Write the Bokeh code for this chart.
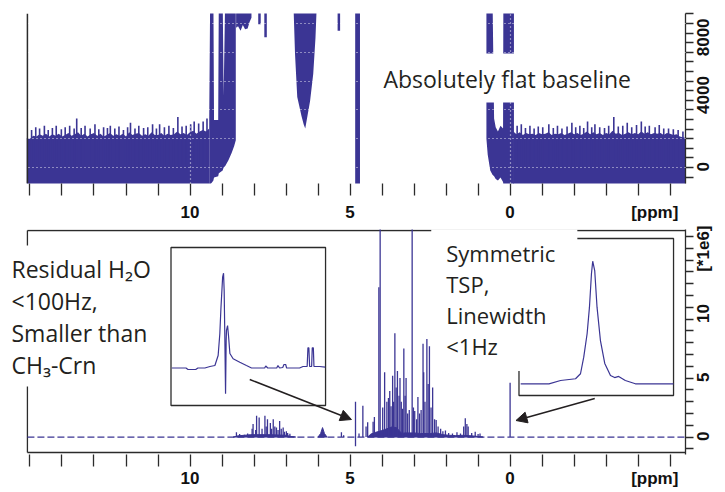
import math
from bokeh.plotting import figure
from bokeh.layouts import column
from bokeh.models import Range1d, FixedTicker, Label, Arrow, NormalHead, Span
from bokeh.embed import file_html
from bokeh.resources import INLINE

BLUE = "#3b3594"
INK = "#231f20"
AXIS = "#2b2b2b"

# ---------------- data ----------------
# x axis (chemical shift, ppm); "[ppm]" unit label sits at -4.52
x_labeled_ticks = [10, 5, 0, -4.52]
x_label_text = {-4.52: "[ppm]"}
x_all_ticks = [15, 14, 13, 12, 11, 10, 9, 8, 7, 6, 5, 4, 3, 2, 1, 0, -1, -2, -3, -4, -5]

# top panel: intensity axis
top_y_labeled = [0, 4000, 8000]
top_y_label_text = ["0", "4000", "8000"]
top_y_minor = [-667, 0, 667, 1333, 2000, 2667, 3333, 4000, 4667, 5333, 6000, 6667,
               7333, 8000, 8667, 9333, 10000, 10667]
top_y_grid = [0, 2000, 4000, 6000, 8000, 10000]

# bottom panel: intensity axis (x 1e6); unit label in place of a top tick label
bot_y_labeled = [0, 5, 10, 16]
bot_y_label_text = ["0", "5", "10", "[*1e6]"]
bot_y_minor = [-1, 0, 1, 2, 3, 4, 5, 6, 7, 8, 9, 10, 11, 12, 13, 14, 15, 16, 17]

# top panel: noise band left of the signals (upper edge of the dense noise)
noise_left_ppm = [15.1, 15.0, 14.9, 14.8, 14.7, 14.6, 14.5, 14.4, 14.3, 14.2, 14.1, 14.0,
                  13.9, 13.8, 13.7, 13.6, 13.5, 13.4, 13.3, 13.2, 13.1, 13.0, 12.9, 12.8,
                  12.7, 12.6, 12.5, 12.4, 12.3, 12.2, 12.1, 12.0, 11.9, 11.8, 11.7, 11.6,
                  11.5, 11.4, 11.3, 11.2, 11.1, 11.0, 10.9, 10.8, 10.7, 10.6, 10.5, 10.4,
                  10.3, 10.2, 10.1, 10.0, 9.9, 9.8, 9.7, 9.6, 9.5, 9.4]
noise_left_top = [2050, 2000, 2200, 2150, 2300, 2200, 2350, 2150, 2300, 2200, 2350, 2150,
                  2250, 2400, 2200, 2300, 2450, 2200, 2350, 2150, 2300, 2400, 2200, 2350,
                  2150, 2250, 2400, 2200, 2300, 2200, 2350, 2150, 2450, 2250, 2350, 2400,
                  2200, 2300, 2200, 2450, 2250, 2250, 2400, 2200, 2350, 2250, 2300, 2500,
                  2300, 2400, 2250, 2450, 2550, 2350, 2500, 2600, 2500, 2700]
noise_left_spike_ppm = [14.95, 14.82, 14.70, 14.55, 14.43, 14.30, 14.18, 14.02, 13.90, 13.76,
                        13.62, 13.54, 13.40, 13.28, 13.12, 12.97, 12.85, 12.70, 12.58, 12.49,
                        12.35, 12.22, 12.08, 11.95, 11.86, 11.72, 11.60, 11.45, 11.32, 11.17,
                        11.05, 10.95, 10.80, 10.66, 10.52, 10.38, 10.25, 10.12, 9.98, 9.87,
                        9.73, 9.59, 9.47]
noise_left_spike = [2600, 2800, 2700, 2900, 2600, 2750, 2900, 2650, 2800, 2900,
                    2700, 3400, 2750, 2900, 2700, 3000, 2650, 2800, 2750, 2900,
                    2700, 2850, 2600, 2800, 3100, 2700, 2900, 2750, 2800, 3000,
                    2700, 3000, 2800, 2900, 2750, 3500, 2850, 2900, 3000, 3200,
                    3050, 3200, 3400]
# top panel: noise band right of TSP
noise_right_ppm = [-0.1, -0.2, -0.3, -0.4, -0.5, -0.6, -0.7, -0.8, -0.9, -1.0, -1.1, -1.2,
                   -1.3, -1.4, -1.5, -1.6, -1.7, -1.8, -1.9, -2.0, -2.1, -2.2, -2.3, -2.4,
                   -2.5, -2.6, -2.7, -2.8, -2.9, -3.0, -3.1, -3.2, -3.3, -3.4, -3.5, -3.6,
                   -3.7, -3.8, -3.9, -4.0, -4.1, -4.2, -4.3, -4.4, -4.5, -4.6, -4.7, -4.8,
                   -4.9, -5.0, -5.1, -5.2, -5.3, -5.4, -5.5]
noise_right_top = [2500, 2300, 2450, 2250, 2400, 2300, 2350, 2250, 2400, 2300,
                   2350, 2450, 2250, 2350, 2300, 2400, 2250, 2350, 2450, 2300,
                   2400, 2250, 2350, 2500, 2300, 2450, 2300, 2400, 2250, 2400,
                   2300, 2550, 2350, 2400, 2250, 2350, 2450, 2300, 2400, 2300,
                   2500, 2350, 2450, 2300, 2400, 2350, 2400, 2250, 2400, 2350,
                   2250, 2300, 2150, 2100, 2050]
noise_right_spike_ppm = [-0.22, -0.35, -0.48, -0.62, -0.75, -0.88, -1.02, -1.21, -1.35, -1.48,
                         -1.62, -1.78, -1.93, -2.05, -2.18, -2.30, -2.42, -2.55, -2.65, -2.80,
                         -2.95, -3.08, -3.24, -3.38, -3.52, -3.66, -3.80, -3.95, -4.10, -4.22,
                         -4.35, -4.53, -4.66, -4.80, -4.95, -5.10, -5.25, -5.40]
noise_right_spike = [2900, 3000, 2750, 2900, 2700, 2850, 2800, 3000, 2750, 2900,
                     2700, 2850, 3100, 2800, 2900, 2750, 3200, 2800, 3000, 2800,
                     2750, 2900, 3500, 2850, 2900, 3100, 2800, 2950, 3200, 2850,
                     2900, 2800, 2950, 2700, 2700, 2650, 2600, 2500]
noise_floor = -1200

# top panel: signal regions that come into view (lower / upper edge)
offscale = 12000
rise_ppm = [9.40, 9.37, 9.27, 9.25, 9.12, 9.10, 8.98, 8.95, 8.90, 8.80, 8.70, 8.62, 8.57]
rise_top = [3400, 12000, 12000, 3300, 3300, 12000, 12000, 5000, 12000, 12000, 12000, 12000, 12000]
rise_low = [-1200, -1200, -900, -700, -600, -400, -200, 0, 100, 500, 1000, 1500, 1900]

arom_ppm = [8.56, 8.50, 8.42, 8.35, 8.28, 8.20, 8.14, 8.08]
arom_low = [9700, 9800, 9500, 9900, 9600, 9650, 10100, 10400]
dip_ppm = [7.83, 7.64, 5.35]
dip_low = [9950, 9050, 9500]

gap_ppm = [6.76, 6.72, 6.65, 6.58, 6.52, 6.45, 6.40, 6.33, 6.25, 6.15, 6.08, 6.05]
gap_low = [10700, 7900, 4900, 4200, 3600, 3000, 2700, 3600, 4600, 6500, 9000, 10700]

water_ppm = [4.84, 4.69]

tsp_ppm = [0.74, 0.70, 0.62, 0.55, 0.50, 0.45, 0.38, 0.30, 0.22, 0.21, -0.12]
tsp_top = [12000, 12000, 12000, 12000, 3400, 2800, 2500, 2900, 2700, 12000, 12000]
tsp_low = [2000, 900, -200, -500, -600, -800, -900, -700, -1000, -1200, -1200]

# bottom panel: resolved peaks (ppm, intensity x1e6)
peak_ppm = [8.55, 8.45, 8.30, 8.20, 8.06, 8.03, 7.95, 7.92, 7.84, 7.75, 7.66, 7.62, 7.58,
            7.49, 7.45, 7.40, 7.35, 7.30, 7.25, 7.20, 7.15, 7.09, 7.05, 6.99, 6.95, 6.88,
            5.27, 5.20, 4.72, 4.60, 4.50, 4.45, 4.28, 4.24, 4.10, 4.06, 3.98, 3.92, 3.85,
            3.80, 3.76, 3.72, 3.67, 3.64, 3.60, 3.56, 3.52, 3.47, 3.44, 3.40, 3.36, 3.32,
            3.28, 3.25, 3.20, 3.15, 3.06, 3.02, 2.98, 2.92, 2.88, 2.83, 2.78, 2.72, 2.70,
            2.66, 2.60, 2.56, 2.52, 2.47, 2.42, 2.36, 2.31, 2.25, 2.17, 2.10, 2.02, 1.92,
            1.80, 1.66, 1.55, 1.45, 1.40, 1.35, 1.31, 1.20, 1.09, 1.00, 0.94, 0.00]
peak_val = [0.40, 0.25, 0.20, 0.30, 0.70, 1.10, 0.60, 1.80, 1.65, 0.70, 1.80, 0.90, 1.50,
            1.20, 0.70, 1.50, 0.90, 0.80, 0.60, 1.35, 0.70, 0.80, 0.45, 0.50, 0.35, 0.28,
            0.40, 0.15, 0.30, 2.65, 0.90, 1.25, 1.30, 1.70, 12.7, 30.0, 2.50, 5.50, 3.00,
            3.30, 3.90, 2.60, 5.20, 3.00, 8.80, 4.20, 5.60, 3.50, 5.00, 3.00, 2.40, 7.50,
            3.50, 5.00, 2.00, 2.30, 30.0, 2.50, 2.20, 1.50, 3.40, 2.00, 2.30, 7.90, 5.50,
            3.00, 8.30, 4.50, 7.70, 2.50, 4.20, 1.50, 1.45, 0.90, 0.70, 0.50, 0.55, 0.35,
            0.30, 0.40, 0.30, 0.90, 1.60, 1.10, 0.90, 0.35, 0.45, 0.25, 0.30, 4.60]
water_shift = 4.83
water_up, water_down = 3.0, -0.77

# bottom panel: broad underlying signal envelopes
hump_ppm = [[8.65, 8.50, 8.10, 7.50, 7.00, 6.85, 6.70],
            [6.00, 5.92, 5.86, 5.80, 5.72],
            [4.45, 4.35, 4.20, 4.00, 3.85, 3.70, 3.55, 3.45, 3.38, 3.30, 3.00, 2.80, 2.50,
             2.30, 2.10, 1.90, 1.70, 1.50, 1.20, 1.00, 0.85]]
hump_val = [[0.0, 0.10, 0.20, 0.20, 0.15, 0.05, 0.0],
            [0.0, 0.30, 0.80, 0.30, 0.0],
            [0.0, 0.25, 0.40, 0.55, 0.70, 0.85, 0.80, 0.50, 0.30, 0.35, 0.35, 0.30, 0.30,
             0.35, 0.20, 0.15, 0.12, 0.15, 0.10, 0.05, 0.0]]

# insets (relative position 0..100, relative intensity 0..100)
h2o_x = [0.5, 9.7, 11.0, 16.0, 17.4, 21.9, 25.2, 28.4, 30.5, 31.6, 32.3, 33.4, 34.0, 34.4,
         34.8, 35.3, 35.7, 35.9, 36.6, 37.2, 38.1, 40.2, 44.5, 48.8, 52.1, 60.6, 61.3, 62.6,
         68.4, 69.2, 70.3, 72.3, 73.1, 74.2, 74.8, 83.2, 85.4, 88.1, 88.6, 89.2, 89.7, 91.0,
         91.4, 92.1, 92.5, 96.1, 99.8]
h2o_y = [0, 0, -1.6, -1.6, 0, 0, 1.6, 2.6, 13.2, 36.4, 62.8, 95.8, 100, 81.8, 36.4, -27.2,
         29, 39.6, 44.8, 34.3, 15.3, 9.7, 6.1, 2.6, 0, 0, 2.1, 0, 0, 2.6, 0, 0.5, 3.7, 3.7,
         0, 0, 1.6, 1.6, 21.3, 21.3, 1.6, 1.6, 21.3, 21.3, 1.6, 1.6, 1.0]
tsp_x = [1.1, 19.4, 26.9, 36.6, 39.8, 41.9, 44.1, 45.6, 46.9, 47.7, 49.0, 50.5, 52.7, 55.5,
         59.2, 61.9, 64.5, 68.8, 75.3, 100]
tsp_y = [0, 0, 2.7, 4.1, 8.2, 21.7, 41, 62.5, 90, 100, 92.4, 62.5, 35.3, 16.6, 6.8, 5.1,
         6.0, 2.7, 0, 0]

# ---------------- layout (page pixels) ----------------
W = 725
FRAME_L, FRAME_R = 27, 687     # drawn frame edges; the bokeh frames start at x=0
TOP_H, BOT_H = 225, 267
T_FT, T_FB = 13, 183
B_FT, B_FB = 230, 452          # drawn frame of the lower panel
B_CT, B_CB = 229, 454          # bokeh frame (clip area) of the lower panel
X0, X1 = 15.08, -5.48
TY0, TY1 = -1110, 10690
BY0, BY1 = -1.31, 17.5
LABEL_SHIFT = 4                # px: recentre rotated tick labels on their ticks


def px_x(px):
    return X0 + (px - FRAME_L) * (X1 - X0) / (FRAME_R - FRAME_L)


def px_ty(py):
    return TY0 + (T_FB - py) * (TY1 - TY0) / (T_FB - T_FT)


def px_by(py):
    return BY0 + (B_FB - py) * (BY1 - BY0) / (B_FB - B_FT)


def style_axes(p, ylab, ytext, yminor, per_px, x_standoff):
    ax = p.xaxis[0]
    ax.ticker = FixedTicker(ticks=x_labeled_ticks, minor_ticks=x_all_ticks)
    ax.major_label_overrides = x_label_text
    ax.major_tick_in = 0
    ax.major_tick_out = 0
    ax.minor_tick_in = 0
    ax.minor_tick_out = 12
    ax.major_label_standoff = x_standoff
    ay = p.yaxis[0]
    shifted = [round(v - LABEL_SHIFT * per_px, 3) for v in ylab]
    ay.ticker = FixedTicker(ticks=shifted, minor_ticks=yminor)
    ay.major_label_overrides = dict(zip(shifted, ytext))
    ay.major_tick_in = 0
    ay.major_tick_out = 0
    ay.minor_tick_in = 0
    ay.minor_tick_out = 8
    ay.major_label_orientation = math.pi / 2
    ay.major_label_standoff = 10
    for a in (ax, ay):
        a.axis_line_color = AXIS
        a.axis_line_width = 1.3
        a.major_tick_line_color = AXIS
        a.minor_tick_line_color = AXIS
        a.major_tick_line_width = 1.3
        a.minor_tick_line_width = 1.3
        a.major_label_text_font = "Liberation Sans"
        a.major_label_text_font_style = "bold"
        a.major_label_text_font_size = "17px"
        a.major_label_text_color = "#111111"
    ax.axis_line_color = None


def text_label(x, y, txt, size, line_h, pad):
    return Label(x=x, y=y, text=txt, text_font="Open Sans", text_font_size=size,
                 text_color=INK, text_align="left", text_baseline="top",
                 text_line_height=line_h, background_fill_color="white",
                 background_fill_alpha=1.0, padding=pad)


# ---------------- top panel ----------------
top = figure(width=W, height=TOP_H, x_range=Range1d(px_x(0), X1), y_range=Range1d(TY0, TY1),
             output_backend="svg", toolbar_location=None, y_axis_location="right",
             min_border_left=0, min_border_right=W - FRAME_R,
             min_border_top=T_FT, min_border_bottom=TOP_H - T_FB)
top.outline_line_color = None
style_axes(top, top_y_labeled, top_y_label_text, top_y_minor,
           (TY1 - TY0) / (T_FB - T_FT), 7)

top.varea(x=noise_left_ppm, y1=noise_floor, y2=noise_left_top, fill_color=BLUE)
top.varea(x=noise_right_ppm, y1=noise_floor, y2=noise_right_top, fill_color=BLUE)
top.segment(x0=noise_left_spike_ppm, y0=0, x1=noise_left_spike_ppm, y1=noise_left_spike,
            line_color=BLUE, line_width=1.6)
top.segment(x0=noise_right_spike_ppm, y0=0, x1=noise_right_spike_ppm, y1=noise_right_spike,
            line_color=BLUE, line_width=1.6)
top.varea(x=rise_ppm, y1=rise_low, y2=rise_top, fill_color=BLUE)
top.varea(x=arom_ppm, y1=arom_low, y2=offscale, fill_color=BLUE)
top.segment(x0=dip_ppm, y0=dip_low, x1=dip_ppm, y1=offscale, line_color=BLUE, line_width=2.5)
top.varea(x=gap_ppm, y1=gap_low, y2=offscale, fill_color=BLUE)
top.varea(x=water_ppm, y1=noise_floor, y2=offscale, fill_color=BLUE)
top.varea(x=tsp_ppm, y1=tsp_low, y2=tsp_top, fill_color=BLUE)

top.xgrid.ticker = FixedTicker(ticks=[10, 5, 0])
top.ygrid.ticker = FixedTicker(ticks=top_y_grid)
for g in (top.xgrid[0], top.ygrid[0]):
    g.grid_line_color = "white"
    g.grid_line_dash = "1 3"
    g.grid_line_width = 1.2
    g.grid_line_alpha = 0.85
    g.level = "overlay"

top.add_layout(Span(location=X0, dimension="height", line_color=AXIS, line_width=1.5))
top.add_layout(text_label(px_x(374), px_ty(53), "Absolutely flat baseline", "23px", 1.0,
                          dict(left=10, right=10, top=9, bottom=8)))

# ---------------- bottom panel ----------------
bot = figure(width=W, height=BOT_H, x_range=Range1d(px_x(0), X1),
             y_range=Range1d(px_by(B_CB), px_by(B_CT)),
             output_backend="svg", toolbar_location=None, y_axis_location="right",
             min_border_left=0, min_border_right=W - FRAME_R,
             min_border_top=B_CT - TOP_H, min_border_bottom=TOP_H + BOT_H - B_CB)
bot.outline_line_color = None
bot.xgrid.visible = False
bot.ygrid.visible = False
style_axes(bot, bot_y_labeled, bot_y_label_text, bot_y_minor,
           (BY1 - BY0) / (B_FB - B_FT), 2)

# drawn frame: left, bottom, top edges
fy_top, fy_bot = px_by(B_FT), px_by(B_FB)
bot.segment(x0=[X0, X0, X0], y0=[fy_bot, fy_bot, fy_top], x1=[X0, X1, X1],
            y1=[fy_top, fy_bot, fy_top], line_color=AXIS, line_width=1.3)

bot.line(x=[X0, X1], y=[0, 0], line_color=BLUE, line_width=1.3, line_dash="7 3")
bot.patches(xs=hump_ppm, ys=hump_val, fill_color=BLUE, line_color=BLUE, line_width=1)
bot.segment(x0=peak_ppm, y0=[0] * len(peak_ppm), x1=peak_ppm, y1=peak_val,
            line_color=BLUE, line_width=1.3)
bot.segment(x0=[water_shift], y0=[water_down], x1=[water_shift], y1=[water_up],
            line_color=BLUE, line_width=1.3)

# inset boxes
ins_h2o = dict(l=171, r=326, t=247, b=405, base=367.5, full=94.8)
ins_tsp = dict(l=520, r=675, t=238, b=395, base=383.3, full=122.6)
for ins, xs, ys in ((ins_h2o, h2o_x, h2o_y), (ins_tsp, tsp_x, tsp_y)):
    bot.quad(left=[px_x(ins["l"])], right=[px_x(ins["r"])], top=[px_by(ins["t"])],
             bottom=[px_by(ins["b"])], fill_color="white", line_color=AXIS, line_width=1.3)
    ix = [px_x(ins["l"] + v / 100 * (ins["r"] - ins["l"])) for v in xs]
    iy = [px_by(ins["base"] - v / 100 * ins["full"]) for v in ys]
    bot.line(x=ix, y=iy, line_color=BLUE, line_width=1.2)

bot.add_layout(text_label(px_x(0), px_by(245),
                          "Residual H\u2082O\n<100Hz,\nSmaller than\nCH\u2083-Crn",
                          "23px", 1.0, dict(left=11, right=8, top=7, bottom=6)))
bot.add_layout(text_label(px_x(432), px_by(228), "Symmetric\nTSP,\nLinewidth\n<1Hz",
                          "22px", 1.04, dict(left=15, right=22, top=9, bottom=10)))
head = dict(size=11, fill_color=INK, line_color=INK)
bot.add_layout(Arrow(end=NormalHead(**head), x_start=px_x(250), y_start=px_by(379),
                     x_end=px_x(352), y_end=px_by(419), line_color=INK, line_width=1.5))
bot.add_layout(Arrow(end=NormalHead(**head), x_start=px_x(596), y_start=px_by(398),
                     x_end=px_x(517), y_end=px_by(420), line_color=INK, line_width=1.5))

layout = column(top, bot, spacing=0)
with open("out.html", "w") as f:
    f.write(file_html(layout, INLINE))
